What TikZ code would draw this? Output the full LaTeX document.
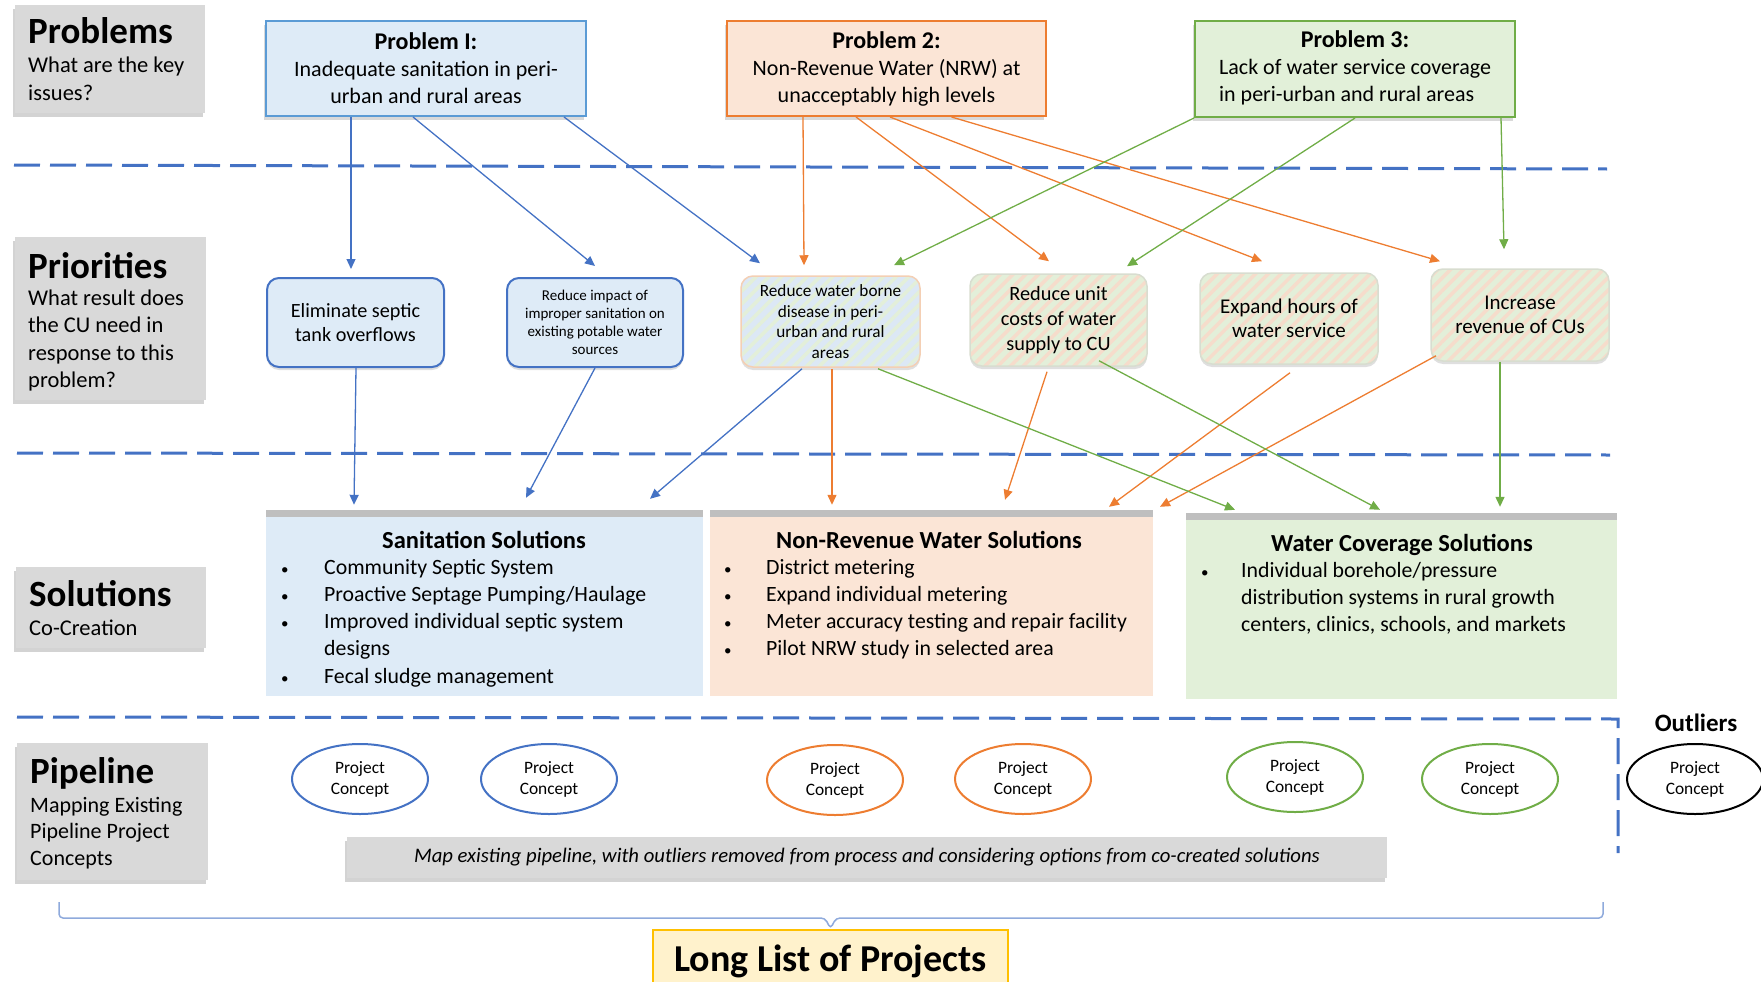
\documentclass[tikz,border=0pt]{standalone}
\usepackage{fontspec}
\setmainfont{Carlito}
\usetikzlibrary{arrows.meta,shadows,patterns.meta,shapes.geometric,calc}
\definecolor{blueL}{HTML}{4472C4}
\definecolor{blueB}{HTML}{5B9BD5}
\definecolor{blueF}{HTML}{DEEBF7}
\definecolor{orgL}{HTML}{ED7D31}
\definecolor{orgF}{HTML}{FBE5D6}
\definecolor{grnL}{HTML}{70AD47}
\definecolor{grnF}{HTML}{E2F0D9}
\definecolor{sidegray}{HTML}{D9D9D9}
\definecolor{hatchO}{HTML}{F6DCCB}
\definecolor{hatchG}{HTML}{E3EFD9}
\definecolor{hatchB}{HTML}{DCE8F5}
\definecolor{hbord}{HTML}{D8DDD0}
\definecolor{wbord}{HTML}{F4CFB4}
\definecolor{bracec}{HTML}{8FAADC}
\definecolor{llF}{HTML}{FFF2CC}
\definecolor{llB}{HTML}{FFC000}
\newcommand\mylines[1]{\begin{tabular}[t]{@{}l@{}}#1\end{tabular}}
\newcommand\bul{{\fontsize{15}{15}\selectfont\textbullet}}
\newcommand\ttl[1]{{\bfseries\fontsize{24}{27}\selectfont #1}}
\begin{document}
\begin{tikzpicture}[x=1pt,y=-1pt,
  every node/.style={inner sep=0pt},
  sidebox/.style={fill=sidegray, drop shadow={shadow xshift=-2pt,shadow yshift=-4pt,opacity=0.35}},
  hd/.style={anchor=base west, font=\bfseries\fontsize{37}{40}\selectfont},
  sub/.style={anchor=base west, font=\fontsize{22.5}{27.5}\selectfont},
  probbox/.style={draw=#1, line width=2pt, drop shadow={shadow xshift=-2pt,shadow yshift=-4pt,opacity=0.3}, font=\fontsize{22}{27}\selectfont, align=center},
  prbase/.style={rounded corners=12pt, align=center, drop shadow={shadow xshift=0pt,shadow yshift=-3pt,opacity=0.25}},
  prblue/.style={prbase, draw=blueL, line width=2pt, fill=blueF},
  prhatch/.style 2 args={prbase, draw=hbord, line width=1.5pt, preaction={fill=#1}, pattern={Lines[angle=45,distance=9pt,line width=3.5pt]}, pattern color=#2},
  solb/.style={draw=none, drop shadow={shadow xshift=0pt,shadow yshift=7pt,opacity=0.5}},
  soltitle/.style={anchor=base, font=\bfseries\fontsize{24.5}{27}\selectfont},
  sollist/.style={anchor=base west, font=\fontsize{21.8}{27.3}\selectfont},
  ell/.style={ellipse, draw=#1, line width=2pt, minimum width=136pt, minimum height=70pt, align=center, font=\fontsize{17.4}{21}\selectfont},
  sep/.style={draw=blueL, line width=3pt, dash pattern=on 26pt off 10pt},
  tip/.style={-{Triangle[length=10pt,width=9pt]}},
  cb/.style={draw=blueL, line width=1.3pt, tip},
  co/.style={draw=orgL, line width=1.3pt, tip},
  cg/.style={draw=grnL, line width=1.3pt, tip}
]
\useasboundingbox (0,0) rectangle (1761,982);

% separators
\draw[sep] (14,165) -- (1607,169);
\draw[sep] (17,453) -- (1610,455);
\draw[sep] (17,717) -- (1618,719) -- (1618,853);

% side labels
\node[sidebox, minimum width=190pt, minimum height=108pt] (probsbox) at (110,59) {};
\node[hd] (probshd) at (28,44) {Problems};
\node[sub] (probssub) at (28,73) {\mylines{What are the key\\issues?}};

\node[sidebox, minimum width=191pt, minimum height=163pt] (priobox) at (110,318.5) {};
\node[hd] (priohd) at (28,278) {Priorities};
\node[sub] (priosub) at (28,305) {\mylines{What result does\\the CU need in\\response to this\\problem?}};

\node[sidebox, minimum width=190pt, minimum height=81pt] (solbox) at (111,607.5) {};
\node[hd] (solhd) at (29,606) {Solutions};
\node[sub] (solsub) at (29,635) {Co-Creation};

\node[sidebox, minimum width=191pt, minimum height=137pt] (pipebox) at (112.5,811.5) {};
\node[hd] (pipehd) at (30,783) {Pipeline};
\node[sub, font=\fontsize{22}{26.5}\selectfont] (pipesub) at (30,812) {\mylines{Mapping Existing\\Pipeline Project\\Concepts}};

% problems
\node[probbox=blueB, fill=blueF, minimum width=320pt, minimum height=95pt] (p1) at (426,68.5) {\ttl{Problem I:}\\Inadequate sanitation in peri-\\urban and rural areas};
\node[probbox=orgL, fill=orgF, minimum width=319pt, minimum height=95pt] (p2) at (886.5,68.5) {\ttl{Problem 2:}\\Non-Revenue Water (NRW) at\\unacceptably high levels};
\node[probbox=grnL, fill=grnF, minimum width=320pt, minimum height=96pt] (p3) at (1355,69) {\mylines{\multicolumn{1}{@{}c@{}}{\ttl{Problem 3:}}\\Lack of water service coverage\\in peri-urban and rural areas}};

% priorities
\node[prblue, minimum width=177pt, minimum height=89pt, font=\fontsize{20.2}{24}\selectfont] (elim) at (355.5,322.5) {Eliminate septic\\tank overflows};
\node[prblue, minimum width=176pt, minimum height=89pt, font=\fontsize{15}{18}\selectfont] (imp) at (595,322.5) {Reduce impact of\\improper sanitation on\\existing potable water\\sources};
\node[prhatch={hatchB}{hatchG}, draw=wbord, minimum width=179pt, minimum height=91pt, font=\fontsize{17.2}{20.5}\selectfont] (wb) at (830.5,321.5) {Reduce water borne\\disease in peri-\\urban and rural\\areas};
\node[prhatch={hatchG}{hatchO}, minimum width=177pt, minimum height=92pt, font=\fontsize{20.3}{25}\selectfont] (uc) at (1058.5,320) {Reduce unit\\costs of water\\supply to CU};
\node[prhatch={hatchG}{hatchO}, minimum width=178pt, minimum height=91pt, font=\fontsize{21}{24.5}\selectfont] (exp) at (1289,318.5) {Expand hours of\\water service};
\node[prhatch={hatchG}{hatchO}, minimum width=178pt, minimum height=92pt, font=\fontsize{21}{24}\selectfont] (inc) at (1520,315) {Increase\\revenue of CUs};

% solutions
\node[solb, fill=blueF, minimum width=437pt, minimum height=179pt] (san) at (484.5,606.5) {};
\node[soltitle] (santitle) at (484,548) {Sanitation Solutions};
\node[sollist] (sanlist) at (281,574) {\begin{tabular}[t]{@{}p{43pt}@{}l@{}}\bul & Community Septic System\\ \bul & Proactive Septage Pumping/Haulage\\ \bul & Improved individual septic system\\ & designs\\ \bul & Fecal sludge management\end{tabular}};

\node[solb, fill=orgF, minimum width=443pt, minimum height=179pt] (nrw) at (931.5,606.5) {};
\node[soltitle] (nrwtitle) at (929,548) {Non-Revenue Water Solutions};
\node[sollist] (nrwlist) at (724,574) {\begin{tabular}[t]{@{}p{42pt}@{}l@{}}\bul & District metering\\ \bul & Expand individual metering\\ \bul & Meter accuracy testing and repair facility\\ \bul & Pilot NRW study in selected area\end{tabular}};

\node[solb, fill=grnF, minimum width=431pt, minimum height=179pt] (wc) at (1401.5,609.5) {};
\node[soltitle] (wctitle) at (1402,551) {Water Coverage Solutions};
\node[sollist] (wclist) at (1201,577) {\begin{tabular}[t]{@{}p{40pt}@{}l@{}}\bul & Individual borehole/pressure\\ & distribution systems in rural growth\\ & centers, clinics, schools, and markets\end{tabular}};

% pipeline
\node[ell=blueL] (e1) at (360,779) {Project\\Concept};
\node[ell=blueL] (e2) at (549,779) {Project\\Concept};
\node[ell=orgL] (e3) at (835,780) {Project\\Concept};
\node[ell=orgL] (e4) at (1023,779) {Project\\Concept};
\node[ell=grnL] (e5) at (1295,777) {Project\\Concept};
\node[ell=grnL] (e6) at (1490,779) {Project\\Concept};
\node[ell=black] (e7) at (1695,779) {Project\\Concept};
\node[font=\bfseries\fontsize{25}{28}\selectfont] (outl) at (1696,723) {Outliers};

\node[fill=sidegray, drop shadow={shadow xshift=-2pt,shadow yshift=-4pt,opacity=0.35}, minimum width=1040pt, minimum height=41pt, font=\itshape\fontsize{20.7}{24}\selectfont] (map) at (867,857.5) {Map existing pipeline, with outliers removed from process and considering options from co-created solutions};

\node[draw=llB, line width=2.5pt, fill=llF, minimum width=355pt, minimum height=62pt, font=\bfseries\fontsize{38}{40}\selectfont] (ll) at (830.5,961) {Long List of Projects};

\coordinate (brl) at (59,902);
\coordinate (brr) at (1603,902);
\draw[draw=bracec, line width=1.5pt, rounded corners=4pt] (brl) -- (59,918) -- (825,918) -- (ll.north) -- (836,918) -- (1603,918) -- (brr);

% connectors: problems -> priorities
\draw[cb] ([xshift=-75pt]p1.south) -- ([xshift=-4.5pt,yshift=8pt]elim.north);
\draw[cb] ([xshift=-13pt]p1.south) -- ([yshift=11pt]imp.north);
\draw[cb] ([xshift=138pt]p1.south) -- ([xshift=-70.5pt,yshift=11pt]wb.north);
\draw[co] ([xshift=-83.5pt]p2.south) -- ([xshift=-26.5pt,yshift=9pt]wb.north);
\draw[co] ([xshift=-30.5pt]p2.south) -- ([xshift=-9.5pt,yshift=12pt]uc.north);
\draw[co] ([xshift=3.5pt]p2.south) -- ([xshift=-27pt,yshift=11pt]exp.north);
\draw[co] ([xshift=65pt]p2.south) -- ([xshift=-80pt,yshift=7pt]inc.north);
\draw[cg] (p3.south west) -- ([xshift=63.5pt,yshift=9pt]wb.north);
\draw[cg] (p3.south) -- ([xshift=68.5pt,yshift=7pt]uc.north);
\draw[cg] ([xshift=146pt]p3.south) -- ([xshift=-16pt,yshift=19pt]inc.north);

% connectors: priorities -> solutions
\draw[cb] ([xshift=0.5pt]elim.south) -- ([xshift=-130.5pt,yshift=12pt]san.north);
\draw[cb] (imp.south) -- ([xshift=41.5pt,yshift=19pt]san.north);
\draw[cb] ([xshift=-28.5pt]wb.south) -- ([xshift=165.5pt,yshift=18pt]san.north);
\draw[co] ([xshift=1.5pt]wb.south) -- ([xshift=-99.5pt,yshift=12pt]nrw.north);
\draw[co] ([xshift=-11.5pt,yshift=-5pt]uc.south) -- ([xshift=73.5pt,yshift=17pt]nrw.north);
\draw[co] ([xshift=1pt,yshift=-8pt]exp.south) -- ([xshift=177.5pt,yshift=10pt]nrw.north);
\draw[co] ([xshift=-84pt,yshift=6pt]inc.south) -- ([xshift=228.5pt,yshift=10pt]nrw.north);
\draw[cg] ([xshift=47.5pt]wb.south) -- ([xshift=-166.5pt,yshift=10pt]wc.north);
\draw[cg] ([xshift=40.5pt,yshift=6pt]uc.south) -- ([xshift=-21.5pt,yshift=10pt]wc.north);
\draw[cg] ([xshift=-20pt]inc.south) -- ([xshift=98.5pt,yshift=13pt]wc.north);
\end{tikzpicture}
\end{document}
